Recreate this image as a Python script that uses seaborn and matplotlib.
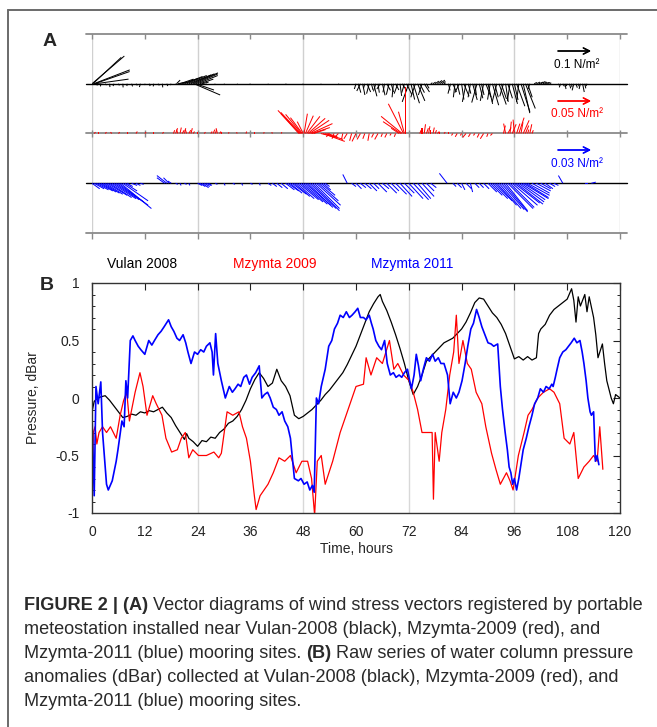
import numpy as np
import seaborn as sns
import matplotlib.pyplot as plt
from matplotlib import font_manager
from matplotlib.lines import Line2D

# ---------------- panel B : pressure anomalies (dBar) ----------------
black_time = [
    0, 0.5, 1, 2, 3, 4, 5, 6, 7, 8,
    9, 10, 11, 12, 13, 14, 15, 16, 17, 18,
    19, 20, 21, 21.5, 22, 23, 24, 25, 26, 27,
    28, 29, 30, 31, 32, 33, 34, 35, 36, 37,
    38, 39, 40, 41, 42, 43, 44, 45, 46, 47,
    48, 49, 50, 51, 52, 53, 54, 55, 56, 57,
    58, 59, 60, 61, 62, 63, 64, 65, 65.5, 66,
    67, 68, 69, 70, 71, 72, 73, 74, 75, 76,
    77, 78, 79, 80, 81, 82, 83, 84, 85, 86,
    87, 88, 89, 90, 91, 92, 93, 94, 95, 96,
    97, 98, 99, 100, 101, 101.5, 102, 103, 104, 105,
    106, 107, 108, 109, 109.5, 110, 110.5, 111, 112, 112.5,
    113, 114, 114.5, 115, 116, 116.5, 117, 118, 118.5, 119,
    120]
black_dbar = [
    -0.12, -0.03, -0.01, 0.01, 0.02, -0.02, -0.07, -0.12, -0.17, -0.16,
    -0.14, -0.15, -0.12, -0.13, -0.11, -0.12, -0.10, -0.08, -0.13, -0.17,
    -0.24, -0.30, -0.36, -0.31, -0.35, -0.38, -0.42, -0.37, -0.38, -0.34,
    -0.35, -0.30, -0.27, -0.22, -0.20, -0.16, -0.10, -0.02, 0.08, 0.16,
    0.22, 0.17, 0.10, 0.13, 0.25, 0.15, 0.10, 0.02, -0.15, -0.18,
    -0.16, -0.13, -0.10, -0.06, -0.02, 0.03, 0.07, 0.12, 0.17, 0.22,
    0.29, 0.37, 0.45, 0.55, 0.65, 0.75, 0.82, 0.88, 0.90, 0.84,
    0.76, 0.66, 0.55, 0.43, 0.30, 0.15, 0.03, 0.10, 0.20, 0.32,
    0.36, 0.40, 0.44, 0.48, 0.50, 0.52, 0.56, 0.60, 0.66, 0.74,
    0.83, 0.87, 0.86, 0.80, 0.74, 0.70, 0.64, 0.56, 0.45, 0.34,
    0.36, 0.33, 0.36, 0.33, 0.35, 0.56, 0.60, 0.64, 0.72, 0.77,
    0.80, 0.83, 0.86, 0.95, 0.85, 0.66, 0.88, 0.80, 0.90, 0.75,
    0.88, 0.70, 0.55, 0.35, 0.47, 0.30, 0.15, 0.00, -0.05, 0.03,
    0.00]

red_time = [
    0, 0.3, 0.7, 1.1, 1.6, 2.4, 3.3, 4.2, 5.5, 6.4,
    7.2, 7.9, 8.5, 9.8, 10.9, 11.6, 12.5, 13.8, 14.6, 15.9,
    16.8, 18.1, 19.4, 20.3, 21.2, 22.0, 22.9, 24.2, 26.0, 27.7,
    28.8, 29.4, 30.7, 32.0, 33.4, 34.2, 35.1, 36.0, 36.9, 37.3,
    38.2, 40.0, 41.2, 42.5, 43.8, 45.1, 46.4, 47.7, 49.0, 49.9,
    50.6, 51.2, 52.1, 53.0, 54.7, 56.4, 58.2, 60.0, 61.7, 62.3,
    63.4, 64.7, 66.0, 67.6, 68.6, 69.5, 70.8, 72.1, 73.0, 74.0,
    75.0, 76.3, 77.3, 77.6, 78.0, 78.9, 79.5, 80.4, 81.3, 82.2,
    82.8, 83.4, 84.3, 85.3, 86.2, 87.3, 88.6, 89.5, 90.8, 91.8,
    92.8, 94.2, 95.0, 95.7, 96.9, 98.2, 99.1, 100.0, 101.3, 102.6,
    104.0, 105.0, 106.3, 107.3, 108.6, 109.5, 110.5, 111.8, 113.0, 114.0,
    114.8, 115.4, 116.1]
red_dbar = [
    -0.83, -0.30, -0.25, -0.40, -0.30, -0.25, -0.30, -0.25, -0.35, -0.15,
    -0.02, 0.05, -0.20, 0.05, 0.22, 0.10, -0.15, 0.02, -0.05, -0.15,
    -0.35, -0.47, -0.45, -0.35, -0.30, -0.52, -0.45, -0.50, -0.50, -0.47,
    -0.52, -0.48, -0.12, -0.15, -0.12, -0.25, -0.35, -0.55, -0.85, -0.97,
    -0.85, -0.75, -0.65, -0.52, -0.55, -0.50, -0.65, -0.55, -0.55, -0.70,
    -1.02, -0.55, -0.50, -0.75, -0.55, -0.30, -0.10, 0.10, 0.12, 0.35,
    0.20, 0.35, 0.30, 0.50, 0.25, 0.30, 0.20, 0.15, 0.05, -0.10,
    -0.30, -0.30, -0.30, -0.88, -0.30, -0.55, -0.30, -0.10, 0.20, 0.40,
    0.72, 0.30, 0.50, 0.30, 0.25, 0.05, -0.05, -0.25, -0.48, -0.62,
    -0.75, -0.65, -0.72, -0.80, -0.50, -0.30, -0.15, -0.10, 0.00, 0.05,
    0.08, 0.05, -0.05, -0.35, -0.40, -0.30, -0.70, -0.60, -0.55, -0.50,
    -0.55, -0.25, -0.62]

blue_time = [
    0, 0.5, 0.9, 1.4, 2.0, 2.4, 3.3, 3.7, 4.6, 5.5,
    5.9, 6.8, 7.3, 7.7, 8.1, 8.7, 9.3, 9.8, 10.5, 11.1,
    12.0, 12.9, 13.6, 14.2, 15.0, 15.7, 16.4, 17.4, 18.0, 18.6,
    19.3, 19.9, 20.7, 21.3, 21.8, 22.5, 23.3, 24.0, 24.7, 25.4,
    26.0, 26.8, 27.3, 27.6, 28.1, 28.6, 29.4, 30.3, 31.2, 31.9,
    32.5, 33.2, 33.8, 34.5, 35.1, 35.8, 36.4, 37.2, 38.0, 38.6,
    39.2, 39.9, 40.5, 41.2, 41.9, 42.5, 43.2, 43.8, 44.5, 45.1,
    45.6, 46.0, 46.9, 47.5, 48.2, 48.9, 49.5, 50.1, 50.5, 51.0,
    51.5, 52.1, 53.0, 53.8, 54.5, 55.1, 55.8, 56.4, 57.1, 57.8,
    58.5, 59.1, 59.8, 60.4, 61.0, 61.7, 62.3, 63.0, 63.5, 63.9,
    64.5, 65.2, 65.8, 66.5, 67.1, 67.8, 68.5, 69.1, 69.8, 70.4,
    71.0, 71.7, 72.2, 72.6, 73.2, 73.7, 74.2, 74.7, 75.3, 76.0,
    76.7, 77.4, 78.0, 78.7, 79.3, 80.0, 80.8, 81.4, 82.1, 82.8,
    83.4, 84.1, 84.8, 85.4, 86.1, 86.7, 87.4, 88.0, 88.6, 89.3,
    90.0, 90.7, 91.3, 92.2, 92.8, 93.3, 93.9, 94.4, 94.8, 95.2,
    95.6, 96.0, 96.5, 97.0, 97.4, 98.0, 98.7, 99.3, 100.0, 100.6,
    101.3, 101.9, 102.6, 103.2, 103.9, 104.5, 104.8, 105.3, 105.7, 106.3,
    107.0, 107.7, 108.3, 108.9, 109.6, 110.2, 110.9, 111.4, 111.8, 112.3,
    112.7, 113.2, 113.5, 114.0, 114.4, 114.8, 115.2]
blue_dbar = [
    -0.15, -0.85, 0.10, -0.05, 0.14, -0.30, -0.75, -0.80, -0.72, -0.55,
    -0.45, -0.20, -0.25, 0.15, 0.00, 0.50, 0.54, 0.50, 0.45, 0.42,
    0.38, 0.50, 0.46, 0.50, 0.55, 0.58, 0.62, 0.68, 0.62, 0.58,
    0.52, 0.50, 0.55, 0.48, 0.40, 0.30, 0.40, 0.38, 0.42, 0.40,
    0.45, 0.48, 0.40, 0.20, 0.56, 0.30, 0.15, 0.00, 0.10, 0.05,
    0.08, 0.12, 0.10, 0.18, 0.20, 0.12, 0.18, 0.22, 0.28, 0.00,
    0.03, 0.05, 0.00, -0.08, -0.10, -0.15, -0.12, -0.20, -0.25, -0.35,
    -0.55, -0.70, -0.72, -0.70, -0.75, -0.73, -0.80, -0.76, -0.82, 0.00,
    -0.05, 0.10, 0.25, 0.45, 0.50, 0.60, 0.65, 0.72, 0.70, 0.75,
    0.70, 0.72, 0.75, 0.78, 0.70, 0.70, 0.68, 0.72, 0.65, 0.60,
    0.50, 0.45, 0.42, 0.50, 0.30, 0.20, 0.22, 0.18, 0.20, 0.18,
    0.22, 0.25, 0.15, 0.08, 0.20, 0.38, 0.28, 0.15, 0.25, 0.35,
    0.32, 0.38, 0.32, 0.35, 0.30, 0.30, 0.20, -0.05, 0.05, 0.00,
    0.05, 0.15, 0.30, 0.45, 0.60, 0.65, 0.77, 0.70, 0.62, 0.55,
    0.48, 0.47, 0.45, 0.47, 0.10, -0.10, -0.30, -0.45, -0.60, -0.65,
    -0.75, -0.70, -0.80, -0.70, -0.60, -0.45, -0.35, -0.25, -0.15, -0.05,
    0.00, 0.08, 0.05, 0.10, 0.08, 0.12, 0.10, 0.18, 0.25, 0.35,
    0.40, 0.42, 0.45, 0.48, 0.52, 0.48, 0.50, 0.40, 0.30, 0.15,
    0.00, -0.12, -0.15, -0.12, -0.55, -0.50, -0.58]

# ---------------- panel A : wind stress sticks (N/m2) ----------------
wind_black_t = [
    0.0, 0.2, 0.4, 0.6, 0.8,
    1, 2, 3, 4, 5, 6, 7, 8, 9, 10, 11, 12, 13, 14, 15, 16, 17, 18, 19,
    19.2, 19.5, 20, 20.5, 21, 21.5, 22, 22.5, 23, 23.2, 23.5, 23.6, 24, 24.5, 25,
    26, 28, 30, 33, 36, 40, 44, 48, 52, 56,
    60, 60.5, 61, 61.5, 62, 62.5, 63, 63.5, 64, 64.5, 65, 65.5, 66, 66.5, 67, 67.5,
    68, 68.5, 69, 69.5, 70, 70.5, 71, 71.5, 72, 72.5, 73, 73.5, 74, 74.5, 75, 75.5, 76,
    77, 77.5, 78, 78.5, 79, 79.5, 80,
    81, 81.5, 82, 82.5, 83, 83.5, 84, 84.5, 85, 85.5, 86, 86.5, 87, 87.5, 88, 88.5,
    89, 89.5, 90, 90.5, 91, 91.5, 92, 92.5, 93, 93.5, 94, 94.5, 95, 95.5, 96, 96.5,
    97, 97.5, 98, 98.5, 99, 99.5,
    100.5, 101, 101.5, 102, 102.5, 103, 103.5, 104,
    106, 106.5, 107, 107.5, 108, 108.5, 109, 109.5, 110, 110.5, 111, 111.5, 112, 112.5]
wind_black_u = [
    0.098, 0.086, 0.109, 0.106, 0.100,
    0.003, -0.001, 0.004, 0.001, -0.003, 0.003, 0.001, -0.001, 0.003, 0.004,
    -0.003, 0.001, 0.003, -0.001, 0.004, 0.001, 0.003, -0.003, 0.001,
    0.011, 0.027, 0.041, 0.048, 0.055, 0.061, 0.068, 0.071, 0.075, 0.079,
    0.068, 0.055, 0.061, 0.041, 0.020,
    0.002, -0.001, 0.002, 0.001, -0.002, 0.001, 0.002, -0.001, 0.001, 0.002,
    -0.005, 0.008, -0.011, 0.007, -0.004, 0.011, -0.008, 0.005, 0.010, -0.007,
    0.004, -0.010, 0.008, -0.005, 0.011, -0.008, 0.007, -0.004, 0.010, -0.011,
    0.005, 0.014, -0.008, 0.016, -0.020, 0.011, 0.019, -0.014, 0.022, 0.014,
    -0.011, 0.016, 0.008,
    0.005, 0.008, 0.011, 0.014, 0.016, 0.011, 0.005,
    0.005, -0.008, 0.011, -0.005, 0.008, -0.014, 0.007, 0.016, -0.011, 0.008,
    -0.007, 0.014, 0.005, -0.016, 0.011, 0.008, -0.010, 0.016, 0.014, -0.008,
    0.019, 0.011, -0.014, 0.022, 0.016, -0.011, 0.008, 0.014, -0.008, 0.016,
    0.011, 0.025, -0.007, 0.027, 0.020, 0.030, 0.014, -0.005,
    0.008, 0.011, 0.014, 0.014, 0.012, 0.011, 0.008, 0.005,
    0.003, -0.004, 0.005, 0.003, -0.003, 0.004, 0.001, -0.005, 0.004, 0.003,
    -0.004, 0.005, 0.003, -0.003]
wind_black_v = [
    0.084, 0.080, 0.042, 0.037, 0.014,
    -0.005, -0.008, -0.004, -0.010, -0.007, -0.005, -0.011, -0.007, -0.008, -0.005,
    -0.010, -0.004, -0.007, -0.008, -0.005, -0.011, -0.007, -0.004, -0.003,
    0.011, 0.005, 0.014, 0.016, 0.022, 0.025, 0.027, 0.030, 0.033, -0.034,
    0.030, -0.019, 0.025, 0.014, 0.005,
    -0.003, -0.002, -0.003, -0.002, -0.002, -0.003, -0.002, -0.002, -0.003, -0.002,
    -0.016, -0.027, -0.022, -0.034, -0.014, -0.025, -0.030, -0.019, -0.038, -0.023,
    -0.027, -0.016, -0.035, -0.026, -0.020, -0.033, -0.025, -0.041, -0.019, -0.030,
    -0.037, -0.022, -0.027, -0.033, -0.055, -0.048, -0.059, -0.041, -0.052, -0.027,
    -0.034, -0.025, -0.014,
    0.003, 0.005, 0.008, 0.010, 0.011, 0.007, 0.003,
    -0.020, -0.030, -0.025, -0.041, -0.033, -0.027, -0.048, -0.038, -0.055, -0.030,
    -0.041, -0.049, -0.035, -0.057, -0.044, -0.034, -0.052, -0.041, -0.061, -0.048,
    -0.065, -0.041, -0.055, -0.063, -0.046, -0.038, -0.055, -0.044, -0.052, -0.061,
    -0.049, -0.068, -0.055, -0.085, -0.089, -0.075, -0.041, -0.016,
    0.004, 0.005, 0.005, 0.007, 0.005, 0.004, 0.004, 0.003,
    -0.005, -0.011, -0.008, -0.016, -0.007, -0.014, -0.010, -0.020, -0.012, -0.008,
    -0.016, -0.025, -0.014, -0.007]

wind_red_t = [
    0.5, 1.5, 3, 4.5, 6, 8, 10, 12, 14, 16, 18.5, 19, 19.5, 20, 20.5, 21, 21.5, 22,
    22.5, 23, 24, 25.5, 27, 27.5, 28, 28.5, 29, 29.5,
    31, 33, 35, 37, 39, 41, 43,
    47.0, 47.2, 47.4, 47.6, 47.8, 48.0, 48.2, 48.5, 48.8, 49.1, 49.4, 49.7, 50.0, 50.4,
    52.0, 52.5, 53.0, 53.5,
    54, 55, 56, 57, 58, 59, 60, 61, 62, 63, 64, 65, 66, 67, 68, 69,
    69.8, 70.2, 70.5, 70.8, 71.0, 71.3,
    74.5, 75, 75.5, 76, 76.5, 77, 77.5, 78, 78.5, 79, 80, 81,
    82, 83, 84, 85, 86, 87, 88, 89, 90, 91,
    93.5, 94, 94.5, 95, 95.5, 96, 96.5, 97, 97.5, 98, 98.5, 99, 99.5, 100]
wind_red_u = [
    0.002, 0.0, 0.002, -0.002, 0.002, 0.0, 0.002, 0.002, 0.0, 0.002, 0.002, 0.003,
    -0.002, 0.002, 0.003, 0.002, -0.002, 0.003, 0.002, 0.002, 0.0, 0.002, 0.002,
    0.003, 0.002, -0.002, 0.002, 0.0,
    0.001, -0.001, 0.001, 0.0, 0.001, -0.001, 0.001,
    -0.027, -0.033, -0.030, -0.024, -0.018, -0.009, 0.005, 0.012, 0.020, 0.026,
    0.030, 0.033, 0.027, 0.018,
    0.024, 0.033, 0.027, 0.015,
    -0.005, -0.003, -0.006, -0.002, -0.005, -0.003, -0.006, -0.005, -0.003, -0.002,
    -0.003, -0.005, -0.002, -0.003, -0.002, -0.002,
    -0.012, -0.027, -0.032, -0.023, -0.009, 0.0,
    0.002, 0.0, 0.002, 0.003, 0.002, 0.0, 0.002, 0.002, 0.003, 0.0, 0.002, 0.0,
    -0.002, -0.003, -0.002, -0.005, -0.003, -0.002, -0.003, -0.005, -0.002, -0.003,
    0.003, -0.003, 0.005, 0.002, 0.006, -0.002, 0.005, 0.008, 0.003, 0.009, 0.005,
    0.002, 0.003, 0.002]
wind_red_v = [
    0.002, 0.002, 0.002, 0.002, 0.002, 0.002, 0.003, 0.002, 0.002, 0.002, 0.005, 0.008,
    0.006, 0.009, 0.005, 0.008, 0.006, 0.005, 0.008, 0.003, 0.002, 0.002, 0.003,
    0.006, 0.005, 0.008, 0.003, 0.002,
    0.002, 0.002, 0.003, 0.002, 0.002, 0.002, 0.002,
    0.030, 0.035, 0.032, 0.029, 0.024, 0.018, 0.030, 0.027, 0.026, 0.023,
    0.020, 0.015, 0.009, 0.006,
    -0.006, -0.012, -0.009, -0.005,
    -0.005, -0.008, -0.006, -0.009, -0.008, -0.011, -0.012, -0.009, -0.008, -0.011,
    -0.006, -0.009, -0.005, -0.006, -0.003, -0.005,
    0.008, 0.018, 0.026, 0.045, 0.033, 0.071,
    0.005, 0.009, 0.014, 0.008, 0.011, 0.006, 0.009, 0.005, 0.003, 0.003, 0.002, 0.002,
    -0.003, -0.005, -0.003, -0.006, -0.005, -0.003, -0.006, -0.008, -0.005, -0.003,
    0.012, 0.015, 0.009, 0.018, 0.014, 0.021, 0.015, 0.024, 0.017, 0.020, 0.012,
    0.006, 0.014, 0.005]

wind_blue_t = [
    0, 0.5, 1, 1.5, 2, 2.5, 3, 3.5, 4, 4.5, 5, 5.5, 6, 6.5, 7, 7.5, 8, 9, 10, 11,
    16.5, 17, 17.5, 18,
    24, 24.5, 25, 25.5, 26, 26.5,
    19, 20, 21, 22, 28, 30, 32, 34, 36, 38,
    40, 41, 42, 43, 44, 44.5, 45, 45.5, 46, 46.5, 47, 47.5, 48, 48.5, 49, 49.5,
    50, 50.5, 51, 51.5, 52, 52.5, 53,
    58,
    59, 60, 61, 62, 63, 64, 65, 66, 67, 68, 69, 70, 71, 72, 73, 74, 75, 76, 77,
    80.7,
    82, 83, 84, 85, 86, 87,
    88, 89, 90, 90.5, 91, 91.5, 92, 92.5, 93, 93.5, 94, 94.5, 95, 95.5, 96, 96.5,
    97, 97.5, 98, 98.5, 99, 100, 101, 102, 103, 104, 105,
    107, 112, 113.5]
wind_blue_u = [
    0.007, 0.009, 0.011, 0.013, 0.014, 0.015, 0.016, 0.018, 0.020, 0.022, 0.023,
    0.025, 0.027, 0.028, 0.023, 0.011, 0.005, 0.005, 0.004, 0.003,
    -0.007, -0.009, -0.005, -0.003,
    0.004, 0.005, 0.006, 0.005, 0.004, 0.003,
    0.002, 0.001, 0.002, 0.001, 0.002, 0.001, 0.002, 0.001, 0.002, 0.001,
    0.003, 0.004, 0.005, 0.006, 0.008, 0.010, 0.011, 0.013, 0.014, 0.016, 0.018,
    0.020, 0.022, 0.023, 0.023, 0.024, 0.025, 0.023, 0.022, 0.018, 0.013, 0.007, 0.004,
    -0.004,
    0.004, 0.005, 0.005, 0.006, 0.007, 0.005, 0.008, 0.006, 0.009, 0.007, 0.010,
    0.011, 0.009, 0.013, 0.014, 0.012, 0.011, 0.007, 0.005,
    -0.007,
    0.003, 0.004, 0.003, 0.005, 0.002, 0.004,
    0.004, 0.005, 0.008, 0.011, 0.014, 0.016, 0.018, 0.020, 0.021, 0.022, 0.020,
    0.023, 0.022, 0.023, 0.023, 0.024, 0.023, 0.022, 0.023, 0.021, 0.020, 0.016,
    0.013, 0.009, 0.007, 0.005, 0.004,
    -0.004, 0.003, 0.004]
wind_blue_v = [
    -0.005, -0.005, -0.006, -0.007, -0.008, -0.009, -0.010, -0.011, -0.013, -0.014,
    -0.015, -0.017, -0.020, -0.023, -0.016, -0.007, -0.003, -0.002, -0.002, -0.001,
    0.005, 0.007, 0.005, 0.002,
    -0.002, -0.003, -0.004, -0.003, -0.002, -0.002,
    -0.001, -0.002, -0.001, -0.002, -0.001, -0.002, -0.001, -0.002, -0.001, -0.002,
    -0.002, -0.003, -0.004, -0.005, -0.006, -0.007, -0.009, -0.010, -0.012, -0.014,
    -0.015, -0.017, -0.019, -0.020, -0.022, -0.023, -0.025, -0.023, -0.020, -0.016,
    -0.011, -0.006, -0.003,
    0.008,
    -0.003, -0.005, -0.004, -0.005, -0.007, -0.005, -0.008, -0.005, -0.009, -0.007,
    -0.010, -0.012, -0.009, -0.014, -0.015, -0.014, -0.012, -0.007, -0.004,
    0.009,
    -0.003, -0.004, -0.006, -0.005, -0.008, -0.004,
    -0.004, -0.005, -0.008, -0.011, -0.014, -0.016, -0.020, -0.023, -0.024, -0.026,
    -0.025, -0.023, -0.022, -0.020, -0.018, -0.019, -0.017, -0.015, -0.014, -0.013,
    -0.011, -0.009, -0.007, -0.005, -0.005, -0.003, -0.002,
    0.007, 0.0, 0.001]

series_names = ["Vulan 2008", "Mzymta 2009", "Mzymta 2011"]
series_colors = ["#000000", "#ff0000", "#0000ff"]
ref_stress = [0.1, 0.05, 0.03]
ref_labels = ["0.1 N/m²", "0.05 N/m²", "0.03 N/m²"]

caption_lines = [
    [("FIGURE 2 | (A)", "bold"),
     ("Vector diagrams of wind stress vectors registered by portable", "normal")],
    [("meteostation installed near Vulan-2008 (black), Mzymta-2009 (red), and", "normal")],
    [("Mzymta-2011 (blue) mooring sites.", "normal"), ("(B)", "bold"),
     ("Raw series of water column pressure", "normal")],
    [("anomalies (dBar) collected at Vulan-2008 (black), Mzymta-2009 (red), and", "normal")],
    [("Mzymta-2011 (blue) mooring sites.", "normal")],
]

# ---------------- style ----------------
sns.set_theme(style="white")
plt.rcParams["font.family"] = ["Liberation Sans", "DejaVu Sans"]

W, H = 657, 727


def fx(px):
    return px / W


def fy(py):
    return 1 - py / H


fig = plt.figure(figsize=(W / 100, H / 100), dpi=100)
fig.patch.set_facecolor("white")

# frame of the figure panel (left and top edges)
fig.add_artist(Line2D([fx(8), fx(8)], [fy(10), 0], transform=fig.transFigure,
                      color="#6a6a6a", lw=1.4))
fig.add_artist(Line2D([fx(8), 1], [fy(10), fy(10)], transform=fig.transFigure,
                      color="#6a6a6a", lw=1.4))

# ---------------- panel A ----------------
axA = fig.add_axes([fx(92), fy(233), fx(620) - fx(92), fy(34) - fy(233)])
axA.set_xlim(0, 120)
axA.set_ylim(0, 4)
axA.axis("off")

for g in range(0, 121, 24):
    axA.plot([g, g], [0, 4], color="#d0d0d0", lw=1, zorder=0)

for y0, c, lw in [(4, "#8a8a8a", 1.3), (3, "black", 1.0), (2, "#8a8a8a", 1.3),
                  (1, "black", 1.0), (0, "#8a8a8a", 1.3)]:
    axA.plot([-1.4, 121.5], [y0, y0], color=c, lw=lw, clip_on=False, zorder=1)

hours12 = list(range(0, 121, 12))
axA.vlines(hours12, 3.9, 4.0, colors="#8a8a8a", lw=1, clip_on=False)
axA.vlines(hours12, 1.92, 2.08, colors="#8a8a8a", lw=1, clip_on=False)
axA.vlines(hours12, -0.12, 0.0, colors="#8a8a8a", lw=1, clip_on=False)

stick_sets = [(wind_black_t, wind_black_u, wind_black_v, 3),
              (wind_red_t, wind_red_u, wind_red_v, 2),
              (wind_blue_t, wind_blue_u, wind_blue_v, 1)]
arrow_px = 33  # length of the reference arrow in pixels
for (t, u, v, row), c, ref in zip(stick_sets, series_colors, ref_stress):
    axA.quiver(t, np.full(len(t), row), u, v, color=c, angles="uv",
               scale_units="inches", scale=ref / (arrow_px / 100), width=0.0019,
               headwidth=0, headlength=0, headaxislength=0, minlength=0,
               pivot="tail", zorder=3)

for (ay, ty), c, lab in zip([(51, 65), (101, 114), (150, 164)], series_colors, ref_labels):
    fig.add_artist(plt.annotate("", xy=(fx(558 + arrow_px), fy(ay)), xytext=(fx(558), fy(ay)),
                                xycoords="figure fraction",
                                arrowprops=dict(arrowstyle="->", color=c, lw=1.0,
                                                shrinkA=0, shrinkB=0, mutation_scale=11)))
    fig.text(fx(577), fy(ty), lab, color=c, fontsize=8.5, ha="center", va="center")

fig.text(fx(50), fy(42), "A", fontsize=14, fontweight="bold", ha="center", va="center")

# ---------------- panel B ----------------
axB = fig.add_axes([fx(92), fy(513), fx(620) - fx(92), fy(283) - fy(513)])
for g in range(24, 120, 24):
    axB.axvline(g, color="#d8d8d8", lw=1, zorder=0)

for t, p, c, lw in [(black_time, black_dbar, series_colors[0], 0.9),
                    (red_time, red_dbar, series_colors[1], 0.9),
                    (blue_time, blue_dbar, series_colors[2], 1.2)]:
    sns.lineplot(x=t, y=p, ax=axB, color=c, lw=lw, estimator=None, sort=False)

axB.set_xlim(0, 120)
axB.set_ylim(-1, 1)
axB.set_xticks(hours12)
axB.set_xticklabels([str(h) for h in hours12])
axB.set_yticks([-1, -0.5, 0, 0.5, 1])
axB.set_yticklabels(["-1", "-0.5", "0", "0.5", "1"])
axB.set_yticks(np.linspace(-1, 1, 21), minor=True)
axB.tick_params(axis="both", which="major", direction="in", length=5, width=0.8,
                top=True, right=True, labelsize=10, colors="#222222")
axB.tick_params(axis="x", which="major", pad=9)
axB.tick_params(axis="y", which="major", pad=9)
axB.tick_params(axis="y", which="minor", direction="in", length=2.5, width=0.7,
                left=True, right=True)
for s in axB.spines.values():
    s.set_color("#333333")
    s.set_linewidth(1.0)
axB.set_xlabel("Time, hours", fontsize=10)
axB.set_ylabel("Pressure, dBar", fontsize=10)
axB.xaxis.set_label_coords(0.5, -0.125)
axB.yaxis.set_label_coords(-0.098, 0.5)

for name, c, x0 in zip(series_names, series_colors, [107, 233, 371]):
    fig.text(fx(x0), fy(264), name, color=c, fontsize=10, ha="left", va="center")

fig.text(fx(47), fy(285), "B", fontsize=14, fontweight="bold", ha="center", va="center")

# ---------------- caption ----------------
names = {f.name for f in font_manager.fontManager.ttflist}
cap_family = "Liberation Sans Narrow" if "Liberation Sans Narrow" in names else "Liberation Sans"
renderer = fig.canvas.get_renderer()


def text_w(s, size, weight):
    t = fig.text(0, 0, s, fontsize=size, fontweight=weight, family=cap_family)
    w = t.get_window_extent(renderer).width
    t.remove()
    return w


def line_w(runs, size):
    gap = text_w("a a", size, "normal") - text_w("aa", size, "normal")
    return sum(text_w(s, size, w) for s, w in runs) + gap * (len(runs) - 1)


cap_size = 10 * 624 / line_w(caption_lines[0], 10)
space = text_w("a a", cap_size, "normal") - text_w("aa", cap_size, "normal")
for i, runs in enumerate(caption_lines):
    x = 24
    for s, w in runs:
        t = fig.text(fx(x), fy(605 + 24 * i), s, fontsize=cap_size, fontweight=w,
                     family=cap_family, color="#2a2a2a", ha="left", va="center")
        x = t.get_window_extent(renderer).x1 + space

fig.savefig("out.png", dpi=100)
